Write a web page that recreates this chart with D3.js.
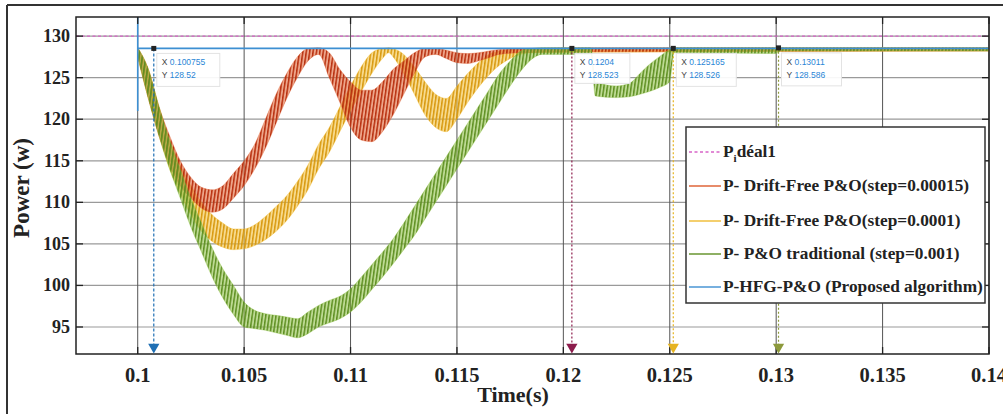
<!DOCTYPE html>
<html><head><meta charset="utf-8">
<script src="https://cdn.jsdelivr.net/npm/d3@7"></script>
<style>body{margin:0;background:#fff}svg{display:block}</style>
</head><body>
<svg id="c" width="1003" height="414"></svg>
<script>
// ---------- data ----------
const xTicks = [0.1, 0.105, 0.11, 0.115, 0.12, 0.125, 0.13, 0.135, 0.14];
const yTicks = [95, 100, 105, 110, 115, 120, 125, 130];

const idealValue = 130;

// P- Drift-Free P&O (step=0.00015) : envelope of the ripple (low / high)
const redT  = [0.1000,0.1005,0.1010,0.1015,0.1020,0.1025,0.1030,0.1035,0.1040,0.1045,0.1050,0.1055,0.1060,0.1065,0.1070,0.1075,0.1080,0.1085,0.1090,0.1095,0.1100,0.1105,0.1110,0.1115,0.1120,0.1125,0.1130,0.1135,0.1140,0.1145,0.1150,0.1155,0.1160,0.1165,0.1170,0.1180,0.1204,0.1400];
const redLo = [127.5,122.5,118,114.5,112,110.5,109.3,108.8,109.2,110.5,112,114,116.5,119.5,122.5,125,127,127.8,125,122,119,117.5,117.3,118.5,120.5,123,125.5,127.5,127.8,127.3,126.8,126.7,127,127.4,127.8,128,128.1,128.2];
const redHi = [128.6,126,121.5,118,115,113,111.8,111.5,112,113.5,115,117,120,123,125.5,127.5,128.5,128.6,128,126,124.5,123.5,123.5,124.5,126,127,128,128.5,128.5,128.3,128,127.9,128,128.2,128.4,128.5,128.6,128.6];

// P- Drift-Free P&O (step=0.0001)
const yelT  = [0.1000,0.1005,0.1010,0.1015,0.1020,0.1025,0.1030,0.1035,0.1040,0.1045,0.1050,0.1055,0.1060,0.1065,0.1070,0.1075,0.1080,0.1085,0.1090,0.1095,0.1100,0.1105,0.1110,0.1115,0.1118,0.1120,0.1125,0.1130,0.1135,0.1140,0.1145,0.1150,0.1155,0.1160,0.1165,0.1170,0.1175,0.1185,0.1252,0.1400];
const yelLo = [127.5,122.5,118,114,111,108.5,106.5,105.3,104.6,104.3,104.4,104.8,105.5,106.5,107.8,109.5,111.5,114,116,118.5,121,123.3,125.5,127.3,128,127.5,125.5,123,120.5,119,118.5,120,122,123.8,125.3,126.5,127.3,128,128.1,128.2];
const yelHi = [128.6,126,121.5,117.5,114.5,112,110,108.5,107.5,106.8,106.8,107.3,108.3,109.5,110.8,112.5,114.5,117,119,121.5,124,126.3,128,128.5,128.6,128.5,127.8,126.3,124.5,123,122.5,124,125.5,126.8,127.8,128.2,128.4,128.5,128.6,128.6];

// P- P&O traditional (step=0.001)
const grnT  = [0.1000,0.1005,0.1010,0.1015,0.1020,0.1025,0.1030,0.1035,0.1040,0.1045,0.1050,0.1055,0.1060,0.1065,0.1070,0.1075,0.1080,0.1085,0.1090,0.1095,0.1100,0.1105,0.1110,0.1115,0.1120,0.1125,0.1130,0.1135,0.1140,0.1145,0.1150,0.1155,0.1160,0.1165,0.1170,0.1175,0.1180,0.1185,0.1190,0.1213,0.1215,0.1225,0.1231,0.1236,0.1240,0.1245,0.1250,0.1252,0.1300,0.1302,0.1400];
const grnLo = [127.5,122.5,118,114,110.5,107,104,101,98.5,96.5,95,94.8,94.6,94.3,94,93.7,94.2,95,95.5,96,96.8,98,99.5,101,102.6,104.3,106,108,110,112,114,116,118,120,122,124,125.8,127.2,127.8,127.8,122.8,122.6,122.7,123,123.3,123.8,124.5,128,127.9,128.2,128.2];
const grnHi = [128.6,126,121.5,117.5,114,110.5,107.5,104.5,102,100,98,97,96.6,96.4,96.2,96,96.8,97.6,98.2,98.7,99.6,101,102.5,104,105.6,107.5,109.5,111.5,113.5,115.5,117.5,119.5,121.5,123.5,125.5,127,128.2,128.5,128.6,128.6,124.5,124,124.3,125.5,126.5,127.5,128.4,128.6,128.6,128.6,128.6];

// P-HFG-P&O (Proposed algorithm)
const bluT = [0.1, 0.1, 0.1, 0.14];
const bluV = [121, 133, 128.52, 128.52];

// data tips
const tipX = [0.100755, 0.1204, 0.125165, 0.13011];
const tipY = [128.52, 128.523, 128.526, 128.586];
const tipXLabel = ["0.100755", "0.1204", "0.125165", "0.13011"];
const tipYLabel = ["128.52", "128.523", "128.526", "128.586"];
const tipColors = ["#1f6fb4", "#8c1c4c", "#e6b320", "#8d9a3c"];

const legendLabels = ["ideal1", "P- Drift-Free P&O(step=0.00015)", "P- Drift-Free P&O(step=0.0001)", "P- P&O traditional (step=0.001)", "P-HFG-P&O (Proposed algorithm)"];

// ---------- drawing ----------
const svg = d3.select("#c");
const L = 76, R = 989, T = 17, B = 354;
const x = d3.scaleLinear().domain([0.0971, 0.14]).range([L, R]);
const y = d3.scaleLinear().domain([91.75, 132.3]).range([B, T]);
const serif = "'Liberation Serif','Times New Roman',serif";

const defs = svg.append("defs");
defs.append("clipPath").attr("id", "clip").append("rect").attr("x", L).attr("y", T).attr("width", R - L).attr("height", B - T);

const cols = {
  red: {base: "#dd5a2a", dark: "#b8300f"},
  yel: {base: "#f0bb30", dark: "#d8980e"},
  grn: {base: "#86bb3a", dark: "#5e8f22"},
  blu: "#3d8fd2",
  ideal: "#d864c8"
};
Object.entries(cols).forEach(([k, c]) => {
  if (typeof c === "string") return;
  const p = defs.append("pattern").attr("id", "pat-" + k).attr("patternUnits", "userSpaceOnUse")
    .attr("width", 3.4).attr("height", 8).attr("patternTransform", "skewX(-8)");
  p.append("rect").attr("width", 3.4).attr("height", 8).attr("fill", c.base).attr("opacity", 0.55);
  p.append("rect").attr("x", 0).attr("width", 1.5).attr("height", 8).attr("fill", c.dark);
});

// outer frame (top and left visible)
svg.append("line").attr("x1", 7).attr("y1", 5).attr("x2", 1003).attr("y2", 5).attr("stroke", "#333").attr("stroke-width", 2);
svg.append("line").attr("x1", 7).attr("y1", 5).attr("x2", 7).attr("y2", 414).attr("stroke", "#333").attr("stroke-width", 2);

// grid
const g = svg.append("g");
g.selectAll(".hg").data(yTicks).join("line").attr("x1", L).attr("x2", R)
  .attr("y1", d => y(d)).attr("y2", d => y(d)).attr("stroke", "#9a9a9a").attr("stroke-width", 1.2);
g.selectAll(".vg").data(xTicks).join("line").attr("y1", T).attr("y2", B)
  .attr("x1", d => x(d)).attr("x2", d => x(d)).attr("stroke", "#555").attr("stroke-width", 1);

const plot = svg.append("g").attr("clip-path", "url(#clip)");

// ideal
plot.append("line").attr("x1", L).attr("x2", R).attr("y1", y(idealValue)).attr("y2", y(idealValue))
  .attr("stroke", cols.ideal).attr("stroke-width", 1.4).attr("stroke-dasharray", "3,2.5");

function band(ts, lo, hi, key) {
  const data = ts.map((t, i) => ({t, lo: lo[i], hi: hi[i]}));
  const area = d3.area().x(d => x(d.t)).y0(d => y(d.lo)).y1(d => y(d.hi)).curve(d3.curveMonotoneX);
  plot.append("path").datum(data).attr("d", area).attr("fill", "url(#pat-" + key + ")")
    .attr("stroke", cols[key].base).attr("stroke-width", 0.6).attr("stroke-opacity", 0.6);
}
band(yelT, yelLo, yelHi, "yel");
band(redT, redLo, redHi, "red");
band(grnT, grnLo, grnHi, "grn");

const bl = bluT.map((t, i) => [x(t), y(bluV[i])]);
plot.append("path").attr("d", d3.line()(bl)).attr("fill", "none").attr("stroke", cols.blu).attr("stroke-width", 1.6);

// axes box and ticks
svg.append("rect").attr("x", L).attr("y", T).attr("width", R - L).attr("height", B - T)
  .attr("fill", "none").attr("stroke", "#222").attr("stroke-width", 1.5);
const tk = 7;
xTicks.forEach(v => {
  svg.append("line").attr("x1", x(v)).attr("x2", x(v)).attr("y1", B).attr("y2", B - tk).attr("stroke", "#222").attr("stroke-width", 1.3);
  svg.append("line").attr("x1", x(v)).attr("x2", x(v)).attr("y1", T).attr("y2", T + tk).attr("stroke", "#222").attr("stroke-width", 1.3);
});
yTicks.forEach(v => {
  svg.append("line").attr("x1", L).attr("x2", L + tk).attr("y1", y(v)).attr("y2", y(v)).attr("stroke", "#222").attr("stroke-width", 1.3);
  svg.append("line").attr("x1", R).attr("x2", R - tk).attr("y1", y(v)).attr("y2", y(v)).attr("stroke", "#222").attr("stroke-width", 1.3);
});
svg.selectAll(".xl").data(xTicks).join("text").attr("x", d => x(d)).attr("y", 382)
  .attr("text-anchor", "middle").attr("font-family", serif).attr("font-weight", "bold").attr("font-size", 20.5)
  .attr("fill", "#222").text(d => String(+d.toFixed(3)));
svg.selectAll(".yl").data(yTicks).join("text").attr("x", 70).attr("y", d => y(d) + 6)
  .attr("text-anchor", "end").attr("font-family", serif).attr("font-weight", "bold").attr("font-size", 18)
  .attr("fill", "#222").text(d => d);

svg.append("text").attr("x", 513).attr("y", 402).attr("text-anchor", "middle").attr("font-family", serif)
  .attr("font-weight", "bold").attr("font-size", 22).attr("fill", "#222").text("Time(s)");
svg.append("text").attr("transform", "translate(29,188) rotate(-90)").attr("text-anchor", "middle").attr("font-family", serif)
  .attr("font-weight", "bold").attr("font-size", 23).attr("fill", "#222").text("Power (w)");

// data tips
const tips = svg.append("g");
tipX.forEach((tx, i) => {
  const px = x(tx), py = y(tipY[i]);
  tips.append("line").attr("x1", px).attr("x2", px).attr("y1", py).attr("y2", B - 2)
    .attr("stroke", tipColors[i]).attr("stroke-width", 1.2).attr("stroke-dasharray", i === 0 ? "3,2" : "2,2");
  tips.append("path").attr("d", d3.symbol(d3.symbolTriangle, 55)()).attr("transform", `translate(${px},${B - 7}) rotate(180)`)
    .attr("fill", tipColors[i]);
  tips.append("rect").attr("x", px - 2.5).attr("y", py - 2.5).attr("width", 5).attr("height", 5).attr("fill", "#222");
  const bx = px + 3, by = py + 5;
  const bw = i === 0 ? 63 : (i === 1 ? 55 : 60), bh = i === 1 ? 30 : 33;
  tips.append("rect").attr("x", bx).attr("y", by).attr("width", bw).attr("height", bh)
    .attr("fill", "#fff").attr("fill-opacity", 0.92).attr("stroke", "#e3e3e3").attr("stroke-width", 1);
  const t1 = tips.append("text").attr("x", bx + 5).attr("y", by + 12).attr("font-family", "'Liberation Sans',Arial,sans-serif").attr("font-size", 8.5);
  t1.append("tspan").attr("fill", "#444").text("X ");
  t1.append("tspan").attr("fill", "#2a86d6").text(tipXLabel[i]);
  const t2 = tips.append("text").attr("x", bx + 5).attr("y", by + 25).attr("font-family", "'Liberation Sans',Arial,sans-serif").attr("font-size", 8.5);
  t2.append("tspan").attr("fill", "#444").text("Y ");
  t2.append("tspan").attr("fill", "#2a86d6").text(tipYLabel[i]);
});

// legend
const lg = svg.append("g");
lg.append("rect").attr("x", 686).attr("y", 127).attr("width", 299).attr("height", 176)
  .attr("fill", "#fff").attr("stroke", "#333").attr("stroke-width", 1.5);
const legY = [152, 186, 221, 254, 287];
const legCol = [cols.ideal, cols.red.base, cols.yel.base, cols.grn.dark, cols.blu];
legendLabels.forEach((lab, i) => {
  lg.append("line").attr("x1", 689).attr("x2", 721).attr("y1", legY[i]).attr("y2", legY[i])
    .attr("stroke", legCol[i]).attr("stroke-width", 1.4).attr("stroke-dasharray", i === 0 ? "3,2.5" : null);
  const tx = lg.append("text").attr("x", 723).attr("y", legY[i] + 5).attr("font-family", serif)
    .attr("font-weight", "bold").attr("font-size", 17.3).attr("fill", "#222");
  if (i === 0) {
    tx.append("tspan").text("P");
    tx.append("tspan").attr("font-size", 11).attr("dy", 5).text("i");
    tx.append("tspan").attr("dy", -5).text("déal1");
  } else tx.text(lab);
});
</script>
</body></html>
